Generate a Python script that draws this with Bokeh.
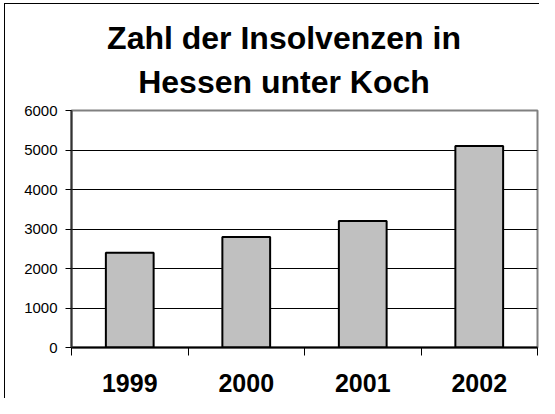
from bokeh.plotting import figure
from bokeh.models import Range1d, FixedTicker, LinearAxis, ColumnDataSource, Div
from bokeh.layouts import column
from bokeh.embed import file_html
from bokeh.resources import INLINE

# ---- data ----
years = ["1999", "2000", "2001", "2002"]
insolvencies = [2400, 2800, 3200, 5100]
y_ticks = [0, 1000, 2000, 3000, 4000, 5000, 6000]
title_lines = ["Zahl der Insolvenzen in", "Hessen unter Koch"]

n = len(years)
centers = [i + 0.5 for i in range(n)]
boundaries = list(range(n + 1))
src = ColumnDataSource(dict(x=centers, top=insolvencies, year=years))

FONT = "Liberation Sans"
W = 539

# ---- title (two centred lines) ----
title_html = (
    '<div style="width:%dpx;box-sizing:border-box;padding-left:29px;padding-top:16px;'
    "text-align:center;font-family:'Liberation Sans';font-weight:bold;font-size:32px;"
    'line-height:44px;color:#000;">%s</div>' % (W, "<br>".join(title_lines))
)
title_div = Div(text=title_html, width=W, height=102, margin=0)

# ---- chart ----
p = figure(width=W, height=296, output_backend="svg", toolbar_location=None,
           x_range=Range1d(0, n), y_range=Range1d(y_ticks[0], y_ticks[-1]),
           x_axis_location=None, y_axis_location="left",
           min_border_left=71, min_border_right=2, min_border_top=8, min_border_bottom=51,
           margin=0)

p.background_fill_color = "white"
p.border_fill_color = None
p.outline_line_color = "#808080"
p.outline_line_width = 2

p.xgrid.grid_line_color = None
p.ygrid.grid_line_color = "#000000"
p.ygrid.grid_line_width = 1
p.ygrid.ticker = FixedTicker(ticks=y_ticks)

ya = p.yaxis[0]
ya.ticker = FixedTicker(ticks=y_ticks)
ya.axis_line_color = "#333333"
ya.axis_line_width = 2
ya.major_tick_line_color = "#000000"
ya.major_tick_out = 6
ya.major_tick_in = 0
ya.minor_tick_line_color = None
ya.major_label_text_font = FONT
ya.major_label_text_font_size = "15px"
ya.major_label_text_color = "#000000"
ya.major_label_standoff = 8

tick_axis = LinearAxis(ticker=FixedTicker(ticks=boundaries),
                       major_label_overrides={b: "" for b in boundaries})
tick_axis.axis_line_color = "#000000"
tick_axis.axis_line_width = 2
tick_axis.major_tick_line_color = "#000000"
tick_axis.major_tick_out = 8
tick_axis.major_tick_in = 0
tick_axis.minor_tick_line_color = None
tick_axis.major_label_text_font_size = "1px"
tick_axis.major_label_standoff = 0
p.add_layout(tick_axis, "below")

label_axis = LinearAxis(ticker=FixedTicker(ticks=centers),
                        major_label_overrides={c: y for c, y in zip(centers, years)})
label_axis.axis_line_color = None
label_axis.major_tick_line_color = None
label_axis.minor_tick_line_color = None
label_axis.major_label_text_font = FONT
label_axis.major_label_text_font_size = "25px"
label_axis.major_label_text_font_style = "bold"
label_axis.major_label_text_color = "#000000"
label_axis.major_label_standoff = 12
p.add_layout(label_axis, "below")

p.vbar(x="x", top="top", width=0.41, bottom=0, source=src,
       fill_color="#c0c0c0", line_color="#000000", line_width=2)

layout = column(title_div, p, spacing=0, margin=0)
layout.styles = {
    "background": "linear-gradient(#000,#000) 4px 3px / 1px 100% no-repeat, "
                  "linear-gradient(#000,#000) 4px 3px / 100% 1px no-repeat, #fff"
}

open("out.html", "w").write(file_html(layout, INLINE))
